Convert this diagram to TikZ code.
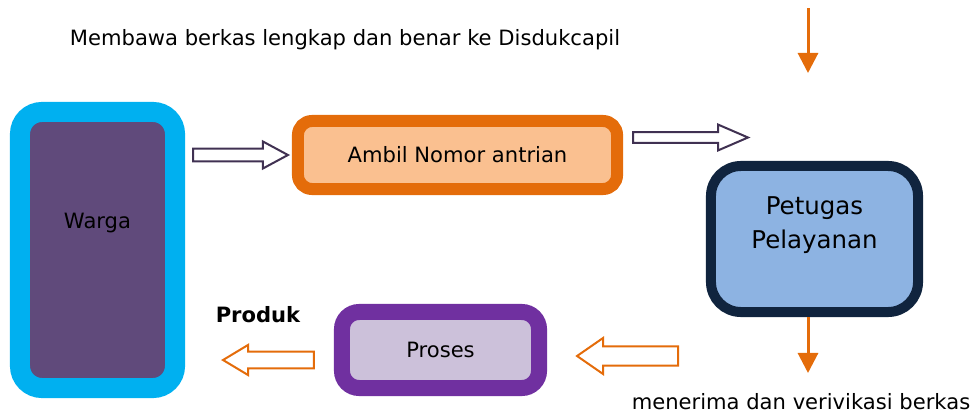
\documentclass[tikz,border=0pt]{standalone}
\usepackage{fontspec}
\setmainfont{DejaVu Sans}
\usetikzlibrary{arrows.meta, positioning, calc}

\definecolor{wargaline}{HTML}{00B0F0}
\definecolor{wargafill}{HTML}{604A7B}
\definecolor{ambilline}{HTML}{E46C0A}
\definecolor{ambilfill}{HTML}{FAC090}
\definecolor{petugasline}{HTML}{10243E}
\definecolor{petugasfill}{HTML}{8DB3E2}
\definecolor{prosesline}{HTML}{7030A0}
\definecolor{prosesfill}{HTML}{CCC1DA}
\definecolor{arrowline}{HTML}{403152}

\tikzset{
  txt/.style={font=\fontsize{15}{18}\selectfont, text=black},
  wargabox/.style={draw=wargaline, fill=wargafill, line width=0.5cm, rounded corners=0.55cm,
    minimum width=3.875cm, minimum height=6.9cm, inner sep=0pt},
  ambilbox/.style={draw=ambilline, fill=ambilfill, line width=0.3cm, rounded corners=0.35cm,
    minimum width=7.975cm, minimum height=1.7cm, txt},
  petugasbox/.style={draw=petugasline, fill=petugasfill, line width=0.25cm, rounded corners=0.75cm,
    minimum width=5.175cm, minimum height=3.65cm, inner sep=0pt},
  prosesbox/.style={draw=prosesline, fill=prosesfill, line width=0.4cm, rounded corners=0.43cm,
    minimum width=4.925cm, minimum height=1.9cm, txt},
  downarrow/.style={draw=ambilline, line width=0.075cm, -{Triangle[width=0.5cm, length=0.5cm]}},
  blockarrow/.style n args={3}{fill=white, line width=0.05cm, line join=miter,
    to path={let \p1=(\tikztostart), \p2=(\tikztotarget), \n1={sign(\x2-\x1)*#3} in
      (\x1,{\y1+#1}) -- ({\x2-\n1*1pt},{\y1+#1}) -- ({\x2-\n1*1pt},{\y1+#2}) -- (\x2,\y1)
      -- ({\x2-\n1*1pt},{\y1-#2}) -- ({\x2-\n1*1pt},{\y1-#1}) -- (\x1,{\y1-#1}) -- cycle}}
}

\begin{document}
\begin{tikzpicture}[x=0.025cm, y=-0.025cm]
	\useasboundingbox (0,0) rectangle (975,414);

	% Boxes
	\node[wargabox, label={[txt, yshift=0.675cm]center:Warga}] (warga) at (97.5,250) {};
	\node[ambilbox] (ambil) at (457.5,155) {Ambil Nomor antrian};
	\node[petugasbox, label={[yshift=0.35cm, align=center, text=black,
	  font=\fontsize{17.4}{24}\selectfont]center:Petugas\\Pelayanan}] (petugas) at (814.5,239) {};
	\node[prosesbox] (proses) at (440.5,350) {Proses};

	% Texts
	\node[txt] (membawa) at (345,40) {Membawa berkas lengkap dan benar ke Disdukcapil};
	\node[txt] (menerima) at (801,402) {menerima dan verivikasi berkas};
	\node[txt, font=\fontsize{15}{18}\selectfont\bfseries] (produk) at (258,315) {Produk};

	% Ends of the block arrows
	\coordinate (a1s) at ([xshift=0.2cm]warga.east |- ambil.west);
	\coordinate (a1e) at ([xshift=-0.1cm]ambil.west);
	\coordinate (a2e) at (748,137.5);
	\coordinate (a2s) at ([xshift=0.25cm]ambil.east |- a2e);
	\coordinate (a3s) at (678,356);
	\coordinate (a3e) at ([xshift=0.75cm]proses.east |- a3s);
	\coordinate (a4s) at ([xshift=-0.5cm, yshift=-0.25cm]proses.west);
	\coordinate (a4e) at ([xshift=0.95cm]warga.east |- a4s);

	\draw[blockarrow={4.6pt}{9.6pt}{17.8pt}, draw=arrowline] (a1s) to (a1e);
	\draw[blockarrow={3.9pt}{9.2pt}{21.3pt}, draw=arrowline] (a2s) to (a2e);
	\draw[blockarrow={6.8pt}{12.8pt}{18.5pt}, draw=ambilline] (a3s) to (a3e);
	\draw[blockarrow={6pt}{10.7pt}{17.8pt}, draw=ambilline] (a4s) to (a4e);

	% Down arrows
	\coordinate (topin) at (808,8);
	\coordinate (topout) at (808,73);
	\coordinate (botout) at (808,373);
	\draw[downarrow] (topin) -- (topout);
	\draw[downarrow] (petugas.south -| botout) -- (botout);
\end{tikzpicture}
\end{document}
